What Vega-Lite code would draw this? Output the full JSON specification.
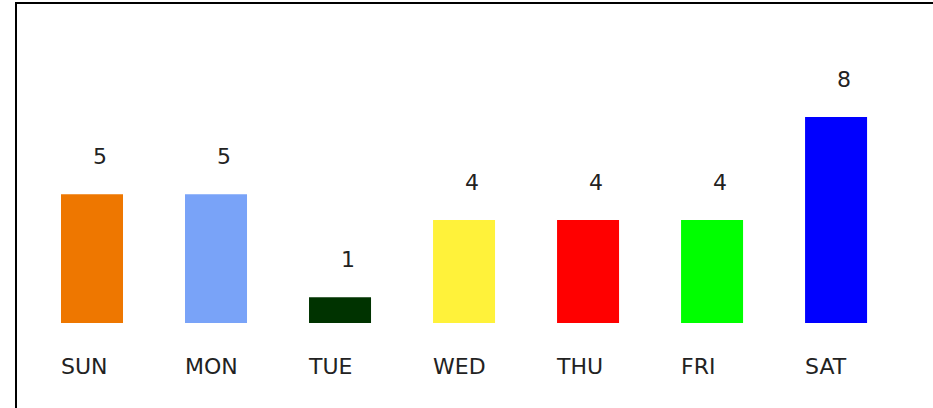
{
  "$schema": "https://vega.github.io/schema/vega-lite/v6.json",
  "autosize": {"type": "none"},
  "padding": {"left": 16, "top": 3, "right": 0, "bottom": 0},
  "width": 940,
  "height": 420,
  "background": "white",
  "config": {
    "view": {"stroke": "black", "strokeWidth": 2},
    "font": "DejaVu Sans"
  },
  "data": {
    "values": [
      {"day": "SUN", "count": 5},
      {"day": "MON", "count": 5},
      {"day": "TUE", "count": 1},
      {"day": "WED", "count": 4},
      {"day": "THU", "count": 4},
      {"day": "FRI", "count": 4},
      {"day": "SAT", "count": 8}
    ]
  },
  "encoding": {
    "x": {
      "field": "day",
      "type": "nominal",
      "sort": null,
      "scale": {"paddingInner": 0.5, "paddingOuter": 0.54, "align": 0.336, "round": false},
      "axis": {
        "title": null,
        "orient": "bottom",
        "offset": -100,
        "domain": false,
        "ticks": false,
        "grid": false,
        "labelAlign": "left",
        "labelBaseline": "top",
        "labelPadding": 33,
        "labelOffset": -31,
        "labelFont": "DejaVu Sans",
        "labelFontSize": 22,
        "labelColor": "#222222",
        "labelAngle": 0
      }
    },
    "y": {
      "field": "count",
      "type": "quantitative",
      "scale": {"domain": [-3.883, 12.427], "nice": false, "zero": false},
      "axis": null
    }
  },
  "layer": [
    {
      "mark": {"type": "bar"},
      "encoding": {
        "y2": {"datum": 0},
        "color": {
          "field": "day",
          "type": "nominal",
          "scale": {
            "domain": ["SUN", "MON", "TUE", "WED", "THU", "FRI", "SAT"],
            "range": ["#ee7700", "#79a3f8", "#003300", "#fff23a", "#ff0000", "#00ff00", "#0000ff"]
          },
          "legend": null
        }
      }
    },
    {
      "mark": {"type": "text", "align": "left", "baseline": "alphabetic", "dx": 1, "dy": -30, "fontSize": 22, "font": "DejaVu Sans", "color": "#222222"},
      "encoding": {
        "text": {"field": "count", "type": "quantitative"}
      }
    }
  ]
}
